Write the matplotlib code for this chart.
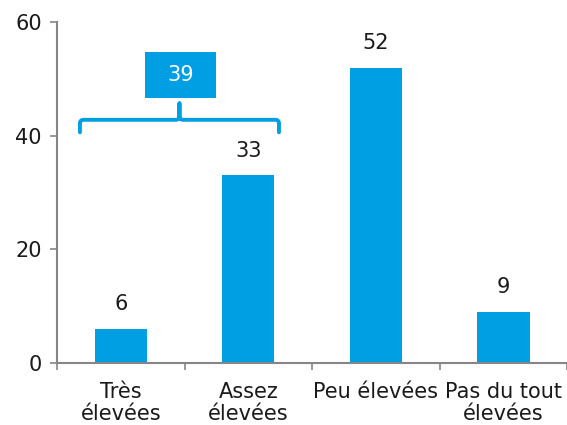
import matplotlib
matplotlib.use("Agg")
import matplotlib.pyplot as plt
from matplotlib.path import Path
from matplotlib.patches import PathPatch, Rectangle

categories = ["Très\nélevées", "Assez\nélevées", "Peu élevées", "Pas du tout\nélevées"]
values = [6, 33, 52, 9]
group_total = 39  # Très + Assez élevées
yticks = [0, 20, 40, 60]

blue = "#009FE3"
axis_grey = "#868686"
text_col = "#1a1a1a"
fs = 15

plt.rcParams["font.family"] = ["DejaVu Sans"]

fig = plt.figure(figsize=(5.67, 4.25), dpi=100)
ax = fig.add_axes([0.1005, 0.146, 0.9, 0.802])

x = list(range(len(categories)))
ax.bar(x, values, width=0.41, color=blue, zorder=2)
for xi, v in zip(x, values):
    ax.text(xi, v + 2.6, f"{v}", ha="center", va="bottom", fontsize=fs, color=text_col)

ax.set_xlim(-0.5, 3.5)
ax.set_ylim(0, 60)
ax.set_yticks(yticks)
ax.set_xticks([-0.5, 0.5, 1.5, 2.5, 3.5])
ax.set_xticklabels([])
ax.set_xticks(x, minor=True)
ax.set_xticklabels(categories, minor=True, fontsize=fs, color=text_col, linespacing=1.12)
ax.tick_params(axis="x", which="minor", length=0, pad=14)
ax.tick_params(axis="x", which="major", length=5, width=1.2, color=axis_grey, direction="out")
ax.tick_params(axis="y", length=5, width=1.2, color=axis_grey, labelsize=fs,
               labelcolor=text_col, pad=6)
for s in ["top", "right"]:
    ax.spines[s].set_visible(False)
for s in ["left", "bottom"]:
    ax.spines[s].set_color(axis_grey)
    ax.spines[s].set_linewidth(1.5)

# curly bracket grouping the first two bars
x0, x1, xm = -0.32, 1.24, 0.46
yb, yh, yt = 40.6, 42.8, 45.7
r = 0.03
verts = [
    (x0, yb), (x0, yh - 0.6), (x0, yh), (x0 + r, yh),
    (xm - r, yh), (xm, yh), (xm, yh + 0.7), (xm, yt),
    (xm, yh + 0.7), (xm, yh), (xm + r, yh),
    (x1 - r, yh), (x1, yh), (x1, yh - 0.6), (x1, yb),
]
codes = [
    Path.MOVETO, Path.LINETO, Path.CURVE3, Path.CURVE3,
    Path.LINETO, Path.CURVE3, Path.CURVE3, Path.LINETO,
    Path.LINETO, Path.CURVE3, Path.CURVE3,
    Path.LINETO, Path.CURVE3, Path.CURVE3, Path.LINETO,
]
ax.add_patch(PathPatch(Path(verts, codes), fill=False, edgecolor=blue, lw=2.8,
                       capstyle="round", joinstyle="round", clip_on=False))

ax.add_patch(Rectangle((0.19, 46.6), 0.56, 8.1, facecolor=blue, edgecolor="none",
                       clip_on=False, zorder=3))
ax.text(0.47, 50.65, f"{group_total}", ha="center", va="center", fontsize=fs,
        color="white", zorder=4)

fig.savefig("out.png", dpi=100)
